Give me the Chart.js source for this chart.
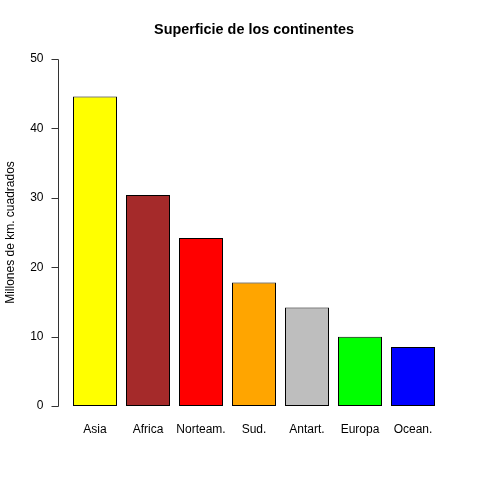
<!DOCTYPE html>
<html>
<head>
<meta charset="utf-8">
<script src="https://cdn.jsdelivr.net/npm/chart.js@4"></script>
<style>
body { margin: 0; background: #fff; }
#wrap { width: 480px; height: 480px; }
</style>
</head>
<body>
<div id="wrap"><canvas id="barChart" width="480" height="480"></canvas></div>
<script>
// data
var continentes = ["Asia", "Africa", "Norteam.", "Sud.", "Antart.", "Europa", "Ocean."];
var superficie = [44.6, 30.4, 24.2, 17.8, 14.2, 10.0, 8.5];
var colores = ["#FFFF00", "#A52A2A", "#FF0000", "#FFA500", "#BEBEBE", "#00FF00", "#0000FF"];
var yTicks = [0, 10, 20, 30, 40, 50];
var titulo = 'Superficie de los continentes';

var fuente = "'Liberation Sans', Arial, Helvetica, sans-serif";

// R-style y axis (line from first to last tick) and title centred on the plot region
var ejeR = {
  id: 'ejeR',
  afterDraw: function(chart) {
    var ctx = chart.ctx;
    var y = chart.scales.y;
    var area = chart.chartArea;
    var x0 = 58.5;
    ctx.save();
    ctx.strokeStyle = '#333';
    ctx.lineWidth = 1;
    ctx.beginPath();
    ctx.moveTo(x0, Math.round(y.getPixelForValue(yTicks[0])) + 0.5);
    ctx.lineTo(x0, Math.round(y.getPixelForValue(yTicks[yTicks.length - 1])) + 0.5);
    yTicks.forEach(function(v) {
      var p = Math.round(y.getPixelForValue(v)) + 0.5;
      ctx.moveTo(x0, p);
      ctx.lineTo(x0 - 7, p);
    });
    ctx.stroke();

    ctx.fillStyle = '#000';
    ctx.font = "bold 14.4px " + fuente;
    ctx.textAlign = 'center';
    ctx.textBaseline = 'middle';
    ctx.fillText(titulo, (area.left - 9.9 + area.right + 9.9) / 2, 30);
    ctx.restore();
  }
};

var ctxB = document.getElementById("barChart").getContext('2d');
var myBarChart = new Chart(ctxB, {
  type: 'bar',
  data: {
    labels: continentes,
    datasets: [{
      data: superficie,
      backgroundColor: colores,
      borderColor: '#000',
      borderWidth: 1,
      borderSkipped: false,
      barPercentage: 0.83,
      categoryPercentage: 1
    }]
  },
  options: {
    responsive: false,
    animation: false,
    devicePixelRatio: 1,
    layout: { padding: { left: 0, right: 40.5, top: 45, bottom: 0 } },
    plugins: {
      legend: { display: false },
      tooltip: { enabled: false },
      title: { display: false }
    },
    scales: {
      x: {
        grid: { display: false, tickLength: 0 },
        border: { display: false },
        ticks: { color: '#000', font: { family: fuente, size: 12 }, padding: 2, maxRotation: 0, autoSkip: false },
        afterFit: function(s) { s.height = 60; }
      },
      y: {
        min: -2,
        max: 52,
        grid: { display: false, tickLength: 0 },
        border: { display: false },
        afterBuildTicks: function(s) { s.ticks = yTicks.map(function(v) { return { value: v }; }); },
        ticks: { color: '#000', font: { family: fuente, size: 12 }, padding: 25 },
        title: {
          display: true,
          text: 'Millones de km. cuadrados',
          color: '#000',
          font: { family: fuente, size: 12, lineHeight: 1.2 },
          padding: { top: 3.5, bottom: 0 }
        },
        afterFit: function(s) { s.width = 68.5; }
      }
    }
  },
  plugins: [ejeR]
});
</script>
</body>
</html>
